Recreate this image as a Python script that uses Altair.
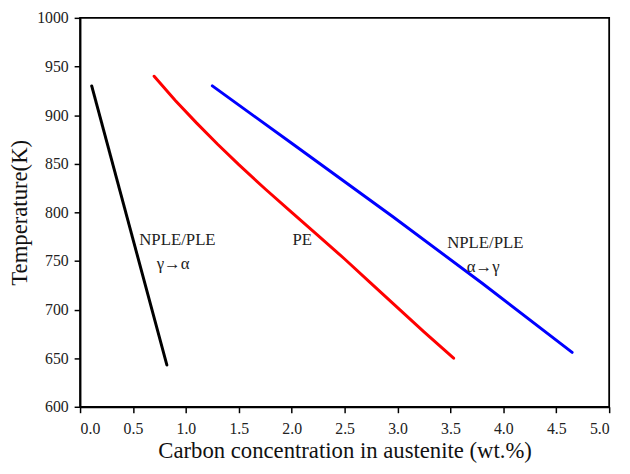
import altair as alt
import pandas as pd

# Series data
black_x = [0.11, 0.82]
black_t = [930, 643]

red_x = [0.70, 0.90, 1.10, 1.30, 1.50, 1.75, 2.00, 2.25, 2.50, 2.75, 3.00, 3.25, 3.53]
red_t = [940, 915, 892, 870, 849, 824, 800, 776, 752, 727, 702, 677, 650]

blue_x = [1.25, 2.00, 2.95, 3.80, 4.65]
blue_t = [930, 871, 796, 727, 656]

# Annotations
ann_text = ["NPLE/PLE", "γ→α", "PE", "NPLE/PLE", "α→γ"]
ann_x = [0.92, 0.88, 2.10, 3.83, 3.81]
ann_t = [771, 747, 771, 768, 744]

x_ticks = [i * 0.25 for i in range(21)]
y_ticks = [600 + i * 25 for i in range(17)]

rows = []
for name, xs, ts in [("black", black_x, black_t), ("red", red_x, red_t), ("blue", blue_x, blue_t)]:
    for i, (xv, tv) in enumerate(zip(xs, ts)):
        rows.append({"series": name, "x": xv, "T": tv, "i": i})
df = pd.DataFrame(rows)
ann = pd.DataFrame({"text": ann_text, "x": ann_x, "T": ann_t})

FONT = "Liberation Serif"

xscale = alt.Scale(domain=[0, 5], nice=False, zero=False)
yscale = alt.Scale(domain=[600, 1000], nice=False, zero=False)

xaxis = alt.Axis(
    title="Carbon concentration in austenite (wt.%)",
    values=x_ticks,
    labelExpr="datum.value % 0.5 == 0 ? format(datum.value, '.1f') : ''",
    tickSize={"condition": {"test": "datum.value % 0.5 != 0", "value": 3}, "value": 6},
    labelPadding=8,
    labelFont=FONT,
    titleY=51, titleBaseline="alphabetic",
)
yaxis = alt.Axis(
    title="Temperature(K)",
    values=y_ticks,
    labelExpr="datum.value % 50 == 0 ? format(datum.value, 'd') : ''",
    tickSize={"condition": {"test": "datum.value % 50 != 0", "value": 3}, "value": 6},
    labelPadding=6,
    labelFont=FONT,
    titleX=-61, titleY=197, titleAngle=270, titleAlign="center", titleBaseline="middle",
)

lines = alt.Chart(df).mark_line(strokeWidth=3, strokeCap="round").encode(
    x=alt.X("x:Q", scale=xscale, axis=xaxis),
    y=alt.Y("T:Q", scale=yscale, axis=yaxis),
    color=alt.Color("series:N",
                    scale=alt.Scale(domain=["black", "red", "blue"], range=["#000000", "#ff0000", "#0000ff"]),
                    legend=None),
    detail="series:N",
    order="i:Q",
)

texts = alt.Chart(ann).mark_text(font=FONT, fontSize=17, color="#222",
                                 baseline="middle", align="center").encode(
    x=alt.X("x:Q", scale=xscale),
    y=alt.Y("T:Q", scale=yscale),
    text="text:N",
)

chart = alt.layer(lines, texts).properties(
    width=536, height=394,
    autosize=alt.AutoSizeParams(type="none"),
    padding={"left": 73, "top": 7, "right": 13, "bottom": 57},
).configure(
    background="white",
).configure_view(
    stroke="black", strokeWidth=1.8,
).configure_axis(
    grid=False,
    labelFontSize=16, labelColor="#222",
    titleFont=FONT, titleFontSize=23, titleFontWeight="normal", titleColor="#111",
    domainColor="black", tickColor="black", domainWidth=1.8, tickWidth=1.5,
)

chart.save("out.html", embed_options={"renderer": "svg", "actions": False})
